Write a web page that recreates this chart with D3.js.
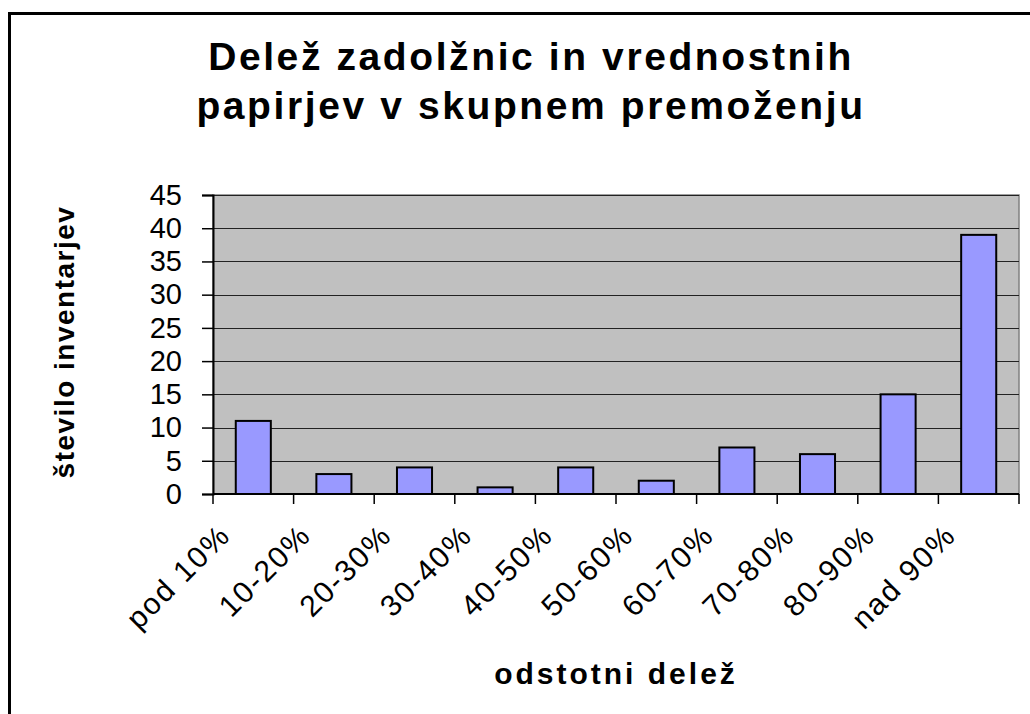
<!DOCTYPE html>
<html>
<head>
<meta charset="utf-8">
<script src="https://cdn.jsdelivr.net/npm/d3@7"></script>
<style>
  body { margin: 0; background: #fff; }
  text { font-family: "Liberation Sans", Arial, sans-serif; }
</style>
</head>
<body>
<div id="chart"></div>
<script>
// data
var categories = ["pod 10%", "10-20%", "20-30%", "30-40%", "40-50%", "50-60%", "60-70%", "70-80%", "80-90%", "nad 90%"];
var counts = [11, 3, 4, 1, 4, 2, 7, 6, 15, 39];
var yTicks = [0, 5, 10, 15, 20, 25, 30, 35, 40, 45];
var titleLines = ["Delež zadolžnic in vrednostnih", "papirjev v skupnem premoženju"];

var width = 1030;
var height = 714;
var pLeft = 213, pRight = 1019, pTop = 195, pBottom = 494;

var svg = d3.select("#chart")
  .append("svg")
  .attr("width", width)
  .attr("height", height);

// outer frame (runs off the right and bottom edges)
svg.append("rect")
  .attr("x", 9.5)
  .attr("y", 13.5)
  .attr("width", 1040)
  .attr("height", 720)
  .attr("fill", "#fff")
  .attr("stroke", "#000")
  .attr("stroke-width", 3);

var xS = d3.scaleBand()
  .domain(categories)
  .range([pLeft, pRight])
  .paddingInner(0.565)
  .paddingOuter(0.2825);

var yScale = d3.scaleLinear()
  .domain([0, 45])
  .range([pBottom, pTop]);

// plot area
svg.append("rect")
  .attr("x", pLeft)
  .attr("y", pTop)
  .attr("width", pRight - pLeft)
  .attr("height", pBottom - pTop)
  .attr("fill", "#c0c0c0")
  .attr("stroke", "#808080")
  .attr("stroke-width", 1.5);

// gridlines
svg.append("g")
  .selectAll("line")
  .data(yTicks.filter(function(d) { return d > 0; }))
  .enter()
  .append("line")
  .attr("x1", pLeft)
  .attr("x2", pRight)
  .attr("y1", function(d) { return Math.round(yScale(d)) + 0.5; })
  .attr("y2", function(d) { return Math.round(yScale(d)) + 0.5; })
  .attr("stroke", "#222")
  .attr("stroke-width", 1);

// bars
svg.append("g")
  .selectAll("rect")
  .data(counts)
  .enter()
  .append("rect")
  .attr("x", function(d, i) { return xS(categories[i]); })
  .attr("y", function(d) { return yScale(d); })
  .attr("width", xS.bandwidth())
  .attr("height", function(d) { return pBottom - yScale(d); })
  .attr("fill", "#9999ff")
  .attr("stroke", "#000")
  .attr("stroke-width", 2);

// y axis
var yAxis = d3.axisLeft(yScale)
  .tickValues(yTicks)
  .tickSize(11)
  .tickPadding(20);

var yG = svg.append("g")
  .attr("transform", "translate(" + pLeft + ",0)")
  .call(yAxis);
yG.select(".domain").attr("stroke", "#000").attr("stroke-width", 2);
yG.selectAll(".tick line").attr("stroke", "#000").attr("stroke-width", 1.5);
yG.selectAll(".tick text")
  .attr("font-family", "Liberation Sans, Arial, sans-serif")
  .attr("font-size", 29)
  .attr("fill", "#000");

// x axis line and category separator ticks
svg.append("line")
  .attr("x1", pLeft)
  .attr("x2", pRight)
  .attr("y1", pBottom)
  .attr("y2", pBottom)
  .attr("stroke", "#000")
  .attr("stroke-width", 2);

var step = xS.step();
svg.append("g")
  .selectAll("line")
  .data(d3.range(categories.length + 1))
  .enter()
  .append("line")
  .attr("x1", function(i) { return pLeft + i * step; })
  .attr("x2", function(i) { return pLeft + i * step; })
  .attr("y1", pBottom)
  .attr("y2", pBottom + 10)
  .attr("stroke", "#000")
  .attr("stroke-width", 1.5);

// rotated category labels
svg.append("g")
  .selectAll("text")
  .data(categories)
  .enter()
  .append("text")
  .attr("transform", function(d) {
    var cx = xS(d) + xS.bandwidth() / 2 - 21;
    return "translate(" + cx + "," + 537 + ")rotate(-45)";
  })
  .attr("text-anchor", "end")
  .attr("font-size", 30)
  .attr("letter-spacing", 2)
  .text(function(d) { return d; });

// title
svg.append("g")
  .selectAll("text")
  .data(titleLines)
  .enter()
  .append("text")
  .attr("x", 531)
  .attr("y", function(d, i) { return 70 + i * 49; })
  .attr("text-anchor", "middle")
  .attr("font-size", 39)
  .attr("font-weight", "bold")
  .attr("letter-spacing", 2.6)
  .text(function(d) { return d; });

// axis titles
svg.append("text")
  .attr("x", 616)
  .attr("y", 684)
  .attr("text-anchor", "middle")
  .attr("font-size", 30)
  .attr("font-weight", "bold")
  .attr("letter-spacing", 3)
  .text("odstotni delež");

svg.append("text")
  .attr("transform", "translate(74,342)rotate(-90)")
  .attr("text-anchor", "middle")
  .attr("font-size", 28)
  .attr("font-weight", "bold")
  .attr("letter-spacing", 1.5)
  .text("število inventarjev");
</script>
</body>
</html>
